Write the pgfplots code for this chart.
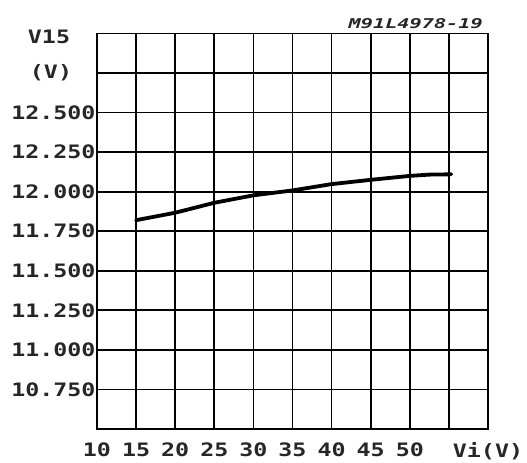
\documentclass[border=0pt]{standalone}
\usepackage{fontspec}
\usepackage{pgfplots}
\pgfplotsset{compat=1.18}
\newfontfamily\plotfont[FakeStretch=1.26]{DejaVu Sans Mono}
\newfontfamily\notefont[FakeStretch=1.5]{DejaVu Sans Mono}
\begin{document}
\begin{tikzpicture}[x=1bp,y=1bp]
\useasboundingbox (-97bp,-34bp) rectangle (430bp,429bp);
\begin{axis}[
  at={(0,0)}, anchor=south west,
  scale only axis,
  width=391bp, height=395.5bp,
  xmin=10, xmax=60, ymin=10.5, ymax=13.0,
  xtick={10,15,20,25,30,35,40,45,50,55,60},
  xticklabels={10,15,20,25,30,35,40,45,50,,Vi(V)},
  ytick={10.5,10.75,11,11.25,11.5,11.75,12,12.25,12.5,12.75,13},
  yticklabels={,10.750,11.000,11.250,11.500,11.750,12.000,12.250,12.500,,},
  grid=major,
  major grid style={black, line width=1.7bp},
  axis line style={black, line width=1.9bp},
  tick style={draw=none},
  tick label style={font=\fontsize{18.5bp}{20bp}\plotfont\bfseries, text=black!85},
  xticklabel style={yshift=-10bp},
  yticklabel style={xshift=2bp},
  /pgf/number format/assume math mode=true,
  clip=false,
]
\addplot[black, line width=3.8bp, line cap=round] coordinates {
 (15,11.82) (20,11.867) (25,11.93) (30,11.977) (35,12.008) (40,12.048) (45,12.075) (50,12.10) (52.5,12.108) (55.3,12.11)
};
\node[inner sep=0pt, font=\fontsize{18.5bp}{20bp}\plotfont\bfseries, text=black!85] at ([xshift=-48bp,yshift=-3bp]rel axis cs:0,1) {V15};
\node[inner sep=0pt, font=\fontsize{18.5bp}{20bp}\plotfont\bfseries, text=black!85] at ([xshift=-46bp]axis cs:10,12.75) {(V)};
\node[anchor=south east, inner sep=0pt, font=\fontsize{13.5bp}{14bp}\notefont\bfseries\itshape, text=black!85] at ([xshift=-5bp,yshift=5bp]rel axis cs:1,1) {M91L4978-19};
\end{axis}
\end{tikzpicture}
\end{document}
